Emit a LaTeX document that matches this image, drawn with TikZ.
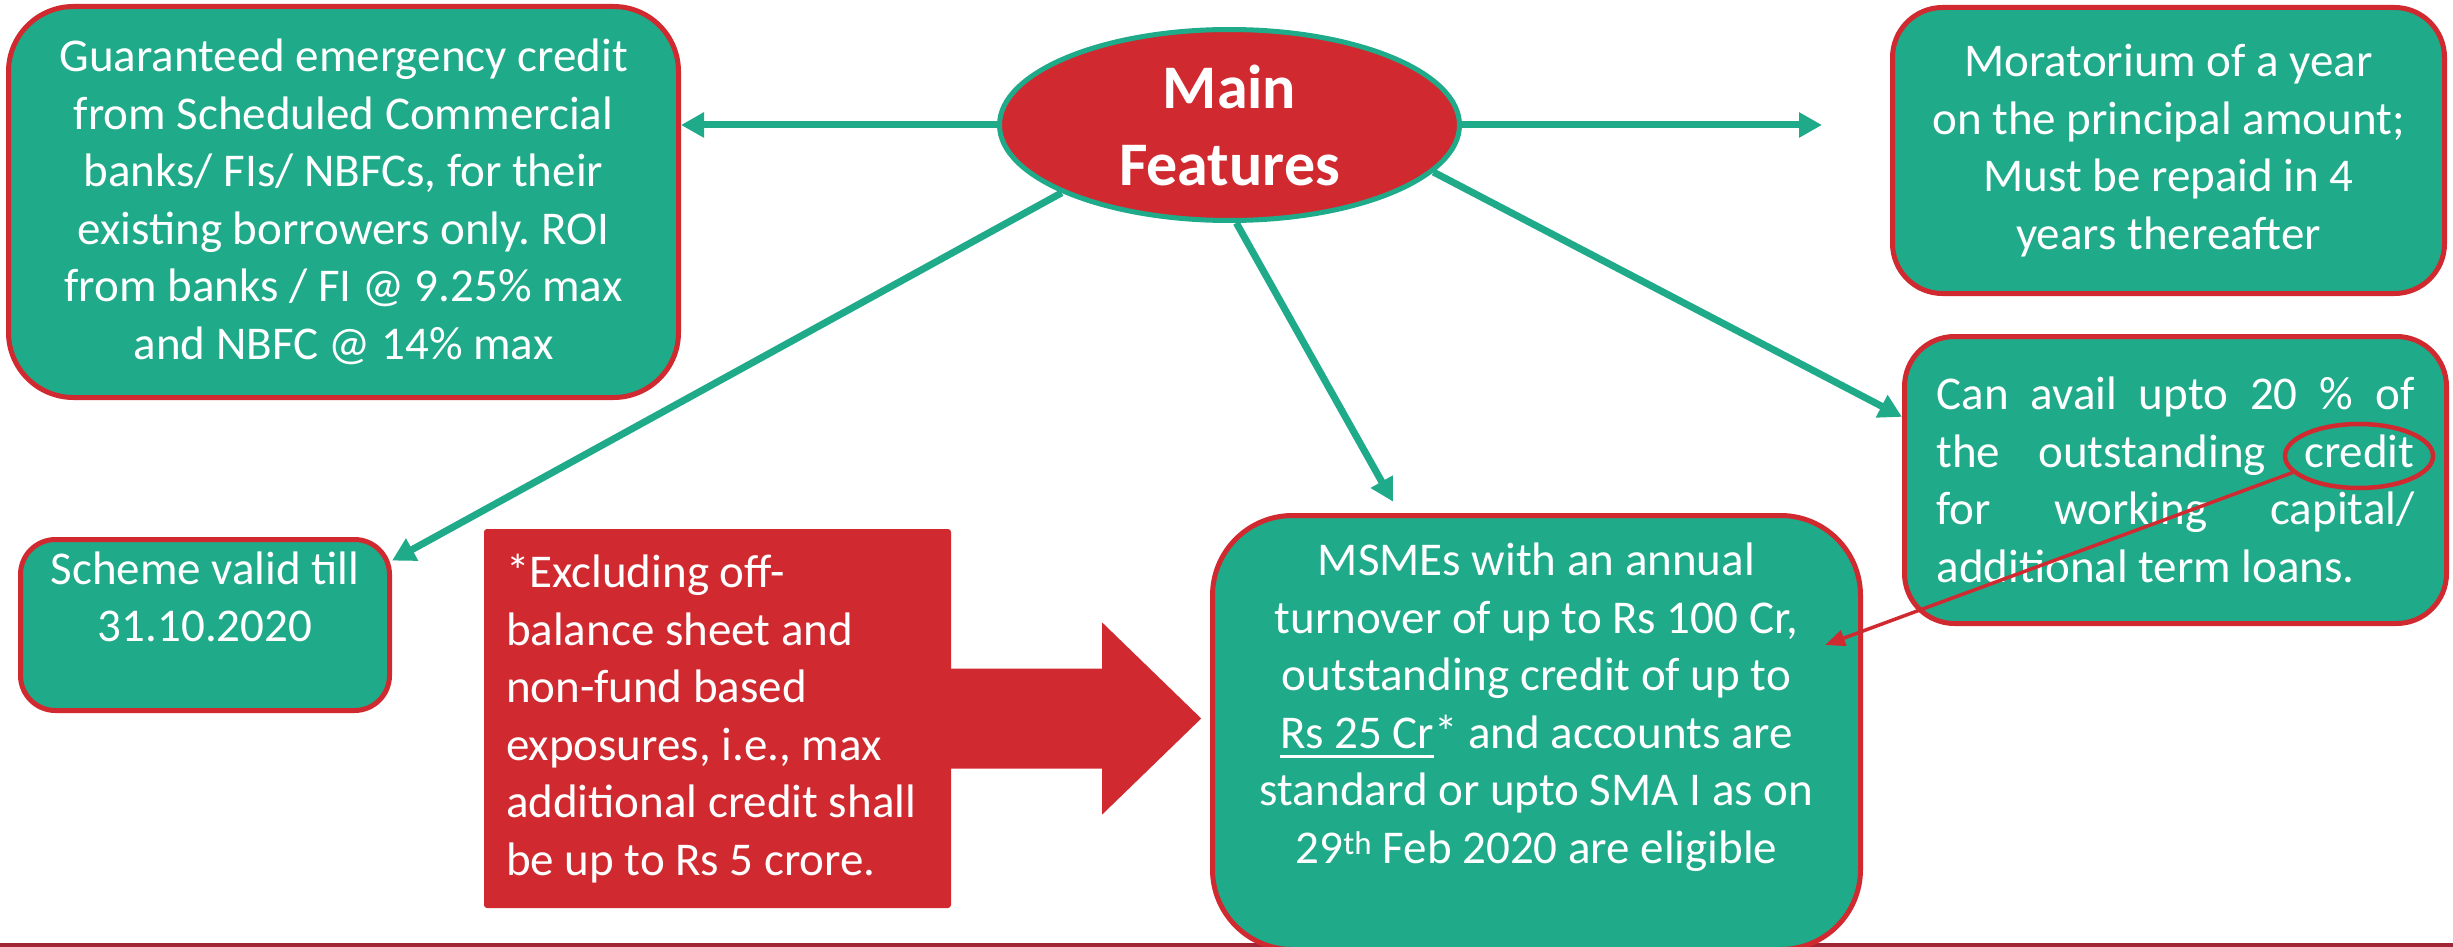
\documentclass[tikz,border=0pt]{standalone}
\usepackage{fontspec}
\setmainfont{Carlito}
\usetikzlibrary{arrows.meta,positioning,shapes.geometric}
\definecolor{featgreen}{RGB}{31,170,138}
\definecolor{featred}{RGB}{208,42,48}
\definecolor{linered}{RGB}{160,37,53}
\newsavebox{\ulbox}
\newcommand{\undl}[1]{\sbox{\ulbox}{#1}\rlap{\rule[-10pt]{\wd\ulbox}{3.5pt}}\usebox{\ulbox}}
\frenchspacing

\begin{document}
\begin{tikzpicture}[
x=1pt, y=-1pt,
body/.style={font=\fontsize{47}{57.5}\selectfont, text=white},
card/.style={draw=featred, line width=5pt, fill=featgreen, body, align=center, inner sep=0pt},
link/.style={draw=featgreen, line width=7pt, -{Triangle[length=23pt,width=24pt]}},
pointer/.style={draw=featred, line width=3.5pt, -{Triangle[length=20pt,width=16pt]}}
]
\useasboundingbox (0,0) rectangle (2453,947);
\fill[white] (0,0) rectangle (2453,947);
\draw[linered, line width=4pt] (0,945) -- (2453,945);

% centre
\node[ellipse, draw=featgreen, line width=5pt, fill=featred, text=white, align=center,
  minimum width=460pt, minimum height=191pt, inner sep=0pt,
  font=\bfseries\fontsize{62}{77}\selectfont] (feat) at (1229.5,125) {Main\\Features};

% feature boxes
\node[card, rounded corners=65pt, minimum width=670pt, minimum height=391pt] (guar) at (343.5,202)
  {Guaranteed emergency credit\\from Scheduled Commercial\\banks/ FIs/ NBFCs, for their\\existing borrowers only. ROI\\from banks / FI @ 9.25\% max\\and NBFC @ 14\% max};
\node[card, rounded corners=50pt, minimum width=552pt, minimum height=286pt] (mora) at (2168.5,150.5)
  {Moratorium of a year\\on the principal amount;\\Must be repaid in 4\\years thereafter};
\node[card, rounded corners=50pt, minimum width=542pt, minimum height=287pt, align=justify, text width=478pt] (avail) at (2175.5,480)
  {Can avail upto 20 \% of\linebreak the outstanding credit\linebreak for working capital/\linebreak additional term loans.};
\node[card, rounded corners=35pt, minimum width=369pt, minimum height=171pt] (scheme) at (205,625) {};
\node[body, align=center] (schemetxt) at (205,597) {Scheme valid till\\31.10.2020};
\node[card, rounded corners=80pt, minimum width=648pt, minimum height=434pt] (msme) at (1536.5,732.5) {};
\node[body, align=center] (msmetxt) at (1536.5,707)
  {MSMEs with an annual\\turnover of up to Rs 100 Cr,\\outstanding credit of up to\\\undl{Rs 25 Cr}* and accounts are\\standard or upto SMA I as on\\29\textsuperscript{th} Feb 2020 are eligible};

% note with block arrow
\node[body, fill=featred, rounded corners=3pt, align=flush left, text width=423pt, inner xsep=22pt, inner ysep=0pt,
  minimum width=467pt, minimum height=379pt] (excl) at (717.5,718.5)
  {*Excluding off-\\balance sheet and\\non-fund based\\exposures, i.e., max\\additional credit shall\\be up to Rs 5 crore.};
\fill[featred] (excl.east) ++(-4,-50) -- ++(155,0) -- ++(0,-46) -- ++(99,96) -- ++(-99,96) -- ++(0,-46) -- ++(-155,0) -- cycle;

\coordinate (righttip) at (1822,125);
\draw[link] (feat.west) -- (feat.west -| guar.east);
\draw[link] (feat.east) -- (righttip);
\draw[link] (feat.202) -- (scheme.19);
\draw[link, shorten >=13pt] (feat.274) -- (msme.122);
\draw[link] (feat.347) -- (avail.167);

\node[ellipse, draw=featred, line width=4.5pt, minimum width=148pt, minimum height=64pt] (credring) at (2359,456) {};
\coordinate (credtip) at (1825,645);
\draw[pointer] (credring.194) -- (credtip);
\end{tikzpicture}
\end{document}
